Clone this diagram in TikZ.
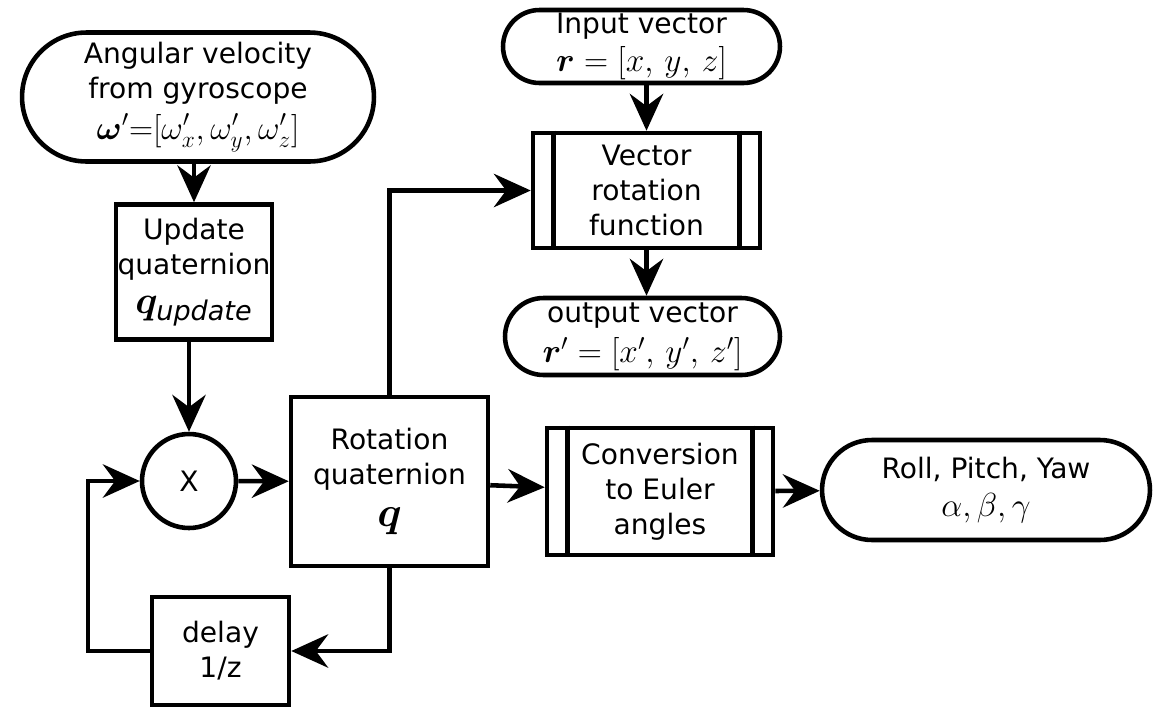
\RequirePackage{fix-cm}
\documentclass[tikz,border=0pt]{standalone}
\usepackage{fontspec}
\setmainfont{DejaVu Sans}
\usepackage{amsmath,bm}
\usetikzlibrary{positioning}
\usetikzlibrary{arrows.meta}
\usetikzlibrary{shapes.misc}

\newcommand{\fml}[1]{{\fontsize{19}{20}\selectfont$#1$}}

\begin{document}
\begin{tikzpicture}[x=0.02cm, y=-0.02cm, line width=2.6pt,
  font=\fontsize{16}{20}\selectfont,
  >={Stealth[length=21pt,width=19pt,inset=7pt]},
  terminal/.style={draw, rounded rectangle, align=center, inner sep=0pt},
  block/.style={draw, rectangle, align=center, inner sep=0pt},
  subproc/.style={draw, rectangle, align=center, inner sep=0pt}]
  \useasboundingbox (0,0) rectangle (1154,718);

  % left column
  \node[terminal, minimum width=7.04cm, minimum height=2.58cm] (omega) at (198,97)
    {Angular velocity\\from gyroscope\\[3pt]\fml{\bm{\omega}'{=}[\omega'_x,\omega'_y,\omega'_z]}};
  \node[block, minimum width=3.12cm, minimum height=2.7cm] (update) at (194,272)
    {Update\\quaternion\\[2pt]{\fontsize{22}{24}\selectfont$\bm{q}_{\mathit{update}}$}};
  \node[draw, circle, minimum size=1.88cm, inner sep=0pt] (mult) at (189,481) {X};
  \node[block, minimum width=3.94cm, minimum height=3.38cm] (rot) at (389.5,481.5)
    {Rotation\\quaternion\\[4pt]{\fontsize{24}{26}\selectfont$\bm{q}$}};
  \node[block, minimum width=2.74cm, minimum height=2.16cm] (delay) at (220.5,651)
    {delay\\1/z};
  \coordinate (fb) at (88,651);

  % vector branch
  \node[terminal, minimum width=5.54cm, minimum height=1.46cm] (input) at (641.5,46.5)
    {Input vector\\[2pt]\fml{\bm{r}=[x,\,y,\,z]}};
  \node[subproc, minimum width=4.54cm, minimum height=2.3cm] (vrot) at (646.5,190.5)
    {Vector\\rotation\\function};
  \node[terminal, minimum width=5.5cm, minimum height=1.54cm] (output) at (642.5,336.5)
    {output vector\\[3pt]\fml{\bm{r}'=[x',\,y',\,z']}};

  % euler branch
  \node[subproc, minimum width=4.52cm, minimum height=2.54cm] (conv) at (660,491.5)
    {Conversion\\to Euler\\angles};
  \node[terminal, minimum width=6.56cm, minimum height=2.0cm] (roll) at (986,490)
    {Roll, Pitch, Yaw\\[2pt]\fml{\alpha,\beta,\gamma}};

  % side bars of the sub-process boxes
  \foreach \n in {vrot,conv} {
    \draw ([xshift=0.46cm]\n.north west) -- ([xshift=0.46cm]\n.south west);
    \draw ([xshift=-0.46cm]\n.north east) -- ([xshift=-0.46cm]\n.south east);
  }

  % connectors
  \draw[->] (update |- omega.south) -- (update.north);
  \draw[->] (mult |- update.south) -- (mult.north);
  \draw[->] (mult) -- (rot);
  \draw[->] (rot.north) |- (vrot.west);
  \draw[->] (vrot.north |- input.south) -- (vrot.north);
  \draw[->] (vrot.south) -- (vrot.south |- output.north);
  \draw[->] (rot) -- (conv);
  \draw[->] (conv) -- (roll);
  \draw[->] (rot.south) |- (delay.east);
  \draw[->] (delay.west) -- (fb) |- (mult.west);
\end{tikzpicture}
\end{document}
